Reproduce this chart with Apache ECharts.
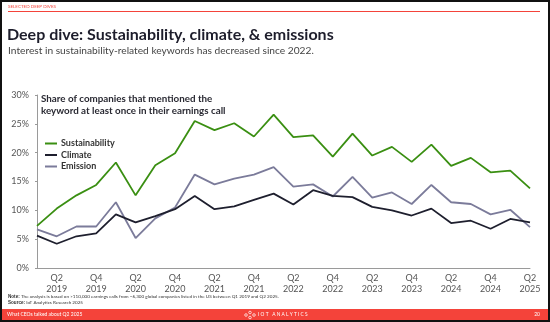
<!DOCTYPE html>
<html>
<head>
<meta charset="utf-8">
<script src="https://cdn.jsdelivr.net/npm/echarts@6/dist/echarts.min.js"></script>
<style>
  html, body { margin: 0; padding: 0; background: #fff; }
  #chart { width: 550px; height: 322px; }
</style>
</head>
<body>
<div id="chart"></div>
<script>
// Quarterly share of companies mentioning each keyword in earnings calls (%)
const quarters = [
  'Q1 2019','Q2 2019','Q3 2019','Q4 2019',
  'Q1 2020','Q2 2020','Q3 2020','Q4 2020',
  'Q1 2021','Q2 2021','Q3 2021','Q4 2021',
  'Q1 2022','Q2 2022','Q3 2022','Q4 2022',
  'Q1 2023','Q2 2023','Q3 2023','Q4 2023',
  'Q1 2024','Q2 2024','Q3 2024','Q4 2024',
  'Q1 2025','Q2 2025'
];
const sustainability = [7.3,10.3,12.6,14.4,18.3,12.6,17.8,19.9,25.5,23.9,25.1,22.8,26.6,22.7,23.0,19.3,23.3,19.5,21.0,18.4,21.4,17.7,19.1,16.6,16.9,13.8];
const climate        = [5.6,4.2,5.5,6.0,9.3,7.9,9.0,10.2,12.5,10.2,10.7,11.8,12.9,11.0,13.5,12.5,12.3,10.6,10.0,9.1,10.3,7.8,8.2,6.8,8.5,7.9];
const emission       = [6.7,5.5,7.2,7.2,11.4,5.2,8.6,10.5,16.2,14.5,15.5,16.2,17.5,14.1,14.5,12.4,15.8,12.2,13.1,11.1,14.4,11.4,11.1,9.3,10.1,7.1];
const yTicks = [0, 5, 10, 15, 20, 25, 30];

// Sustainability gets value labels at its peak and on the latest quarter
const peakIdx = sustainability.indexOf(Math.max(...sustainability));
const lastIdx = sustainability.length - 1;
const sustData = sustainability.map((v, i) => {
  if (i === peakIdx) return { value: v, label: { show: true, position: 'top', distance: 4 } };
  if (i === lastIdx) return { value: v, label: { show: true, position: 'bottom', distance: 5 } };
  return v;
});

const FONT = 'Lato, "Open Sans", sans-serif';
const RED = '#f4433a';

const chart = echarts.init(document.getElementById('chart'), null, { renderer: 'canvas' });

chart.setOption({
  animation: false,
  backgroundColor: '#fff',
  textStyle: { fontFamily: FONT },
  grid: { left: 37, right: 20, top: 95, bottom: 54, containLabel: false },
  legend: {
    orient: 'vertical',
    left: 40, top: 134,
    itemWidth: 12, itemHeight: 2, itemGap: 2.5,
    icon: 'rect',
    textStyle: { fontFamily: FONT, fontSize: 9, fontWeight: 'bold', color: '#333', padding: [0, 0, 0, -1] },
    data: ['Sustainability', 'Climate', 'Emission']
  },
  xAxis: {
    type: 'category',
    data: quarters,
    boundaryGap: false,
    axisLine: { lineStyle: { color: '#9a9a9a', width: 1 } },
    axisTick: { show: false },
    axisLabel: {
      interval: (i) => i % 2 === 1,
      formatter: (v) => v.replace(' ', '\n'),
      color: '#555', fontSize: 9, lineHeight: 11, margin: 5, fontFamily: FONT
    },
    splitLine: { show: false }
  },
  yAxis: {
    type: 'value',
    min: yTicks[0], max: yTicks[yTicks.length - 1], interval: 5,
    axisLine: { show: true, lineStyle: { color: '#9a9a9a', width: 1 } },
    axisTick: { show: true, length: 2, lineStyle: { color: '#9a9a9a' } },
    axisLabel: { formatter: '{value}%', color: '#555', fontSize: 9, margin: 8, fontFamily: FONT },
    splitLine: { show: false }
  },
  series: [
    {
      name: 'Sustainability', type: 'line', data: sustData,
      symbol: 'none', lineStyle: { color: '#3a8f12', width: 1.8 }, itemStyle: { color: '#3a8f12' },
      label: { formatter: (p) => Math.round(p.value) + '%', color: '#666', fontSize: 9, fontFamily: FONT },
      z: 3
    },
    {
      name: 'Climate', type: 'line', data: climate,
      symbol: 'none', lineStyle: { color: '#1e1f2e', width: 1.8 }, itemStyle: { color: '#1e1f2e' },
      z: 2
    },
    {
      name: 'Emission', type: 'line', data: emission,
      symbol: 'none', lineStyle: { color: '#7b7b9a', width: 1.8 }, itemStyle: { color: '#7b7b9a' },
      z: 1
    }
  ],
  graphic: [
    // page frame
    { type: 'rect', shape: { x: 1, y: 1, width: 548, height: 320 }, style: { fill: 'none', stroke: '#111', lineWidth: 2 }, z: 100 },
    // header
    { type: 'text', left: 8, top: 4, style: { text: 'SELECTED DEEP DIVES', fill: RED, font: '4.5px ' + FONT } },
    { type: 'rect', shape: { x: 8, y: 11, width: 532, height: 1 }, style: { fill: RED } },
    { type: 'text', left: 7, top: 27, style: { text: 'Deep dive: Sustainability, climate, & emissions', fill: '#1d1d2b', font: 'bold 16px ' + FONT } },
    { type: 'text', left: 8, top: 46, style: { text: 'Interest in sustainability-related keywords has decreased since 2022.', fill: '#444', font: '10.2px ' + FONT } },
    // chart caption
    { type: 'text', left: 41, top: 93, style: { text: 'Share of companies that mentioned the\nkeyword at least once in their earnings call', fill: '#2a2a33', font: 'bold 9.8px ' + FONT, lineHeight: 12 } },
    // footnotes
    { type: 'text', left: 8, top: 294, style: { text: '{b|Note:} The analysis is based on >110,000 earnings calls from ~6,300 global companies listed in the US between Q1 2019 and Q2 2025.', fill: '#333', font: '4.6px ' + FONT, rich: { b: { fontWeight: 'bold', fontSize: 4.6, fill: '#333' } } } },
    { type: 'text', left: 8, top: 300.5, style: { text: '{b|Source:} IoT Analytics Research 2025', fill: '#333', font: '4.6px ' + FONT, rich: { b: { fontWeight: 'bold', fontSize: 4.6, fill: '#333' } } } },
    // footer band
    { type: 'rect', shape: { x: 2, y: 309, width: 546, height: 11 }, style: { fill: RED } },
    { type: 'text', left: 7, top: 311.5, style: { text: 'What CEOs talked about Q2 2025', fill: '#fff', font: '5px ' + FONT } },
    { type: 'circle', shape: { cx: 246, cy: 315, r: 1.3 }, style: { fill: 'none', stroke: '#fff', lineWidth: 0.7 } },
    { type: 'circle', shape: { cx: 250, cy: 312.5, r: 1.3 }, style: { fill: 'none', stroke: '#fff', lineWidth: 0.7 } },
    { type: 'circle', shape: { cx: 250, cy: 317.5, r: 1.3 }, style: { fill: 'none', stroke: '#fff', lineWidth: 0.7 } },
    { type: 'circle', shape: { cx: 254, cy: 315, r: 1.3 }, style: { fill: 'none', stroke: '#fff', lineWidth: 0.7 } },
    { type: 'text', left: 258, top: 311.8, style: { text: 'I O T   A N A L Y T I C S', fill: '#fff', font: '4.8px ' + FONT } },
    { type: 'text', right: 10, top: 311.5, style: { text: '20', fill: '#fff', font: '5px ' + FONT } }
  ]
});
</script>
</body>
</html>
